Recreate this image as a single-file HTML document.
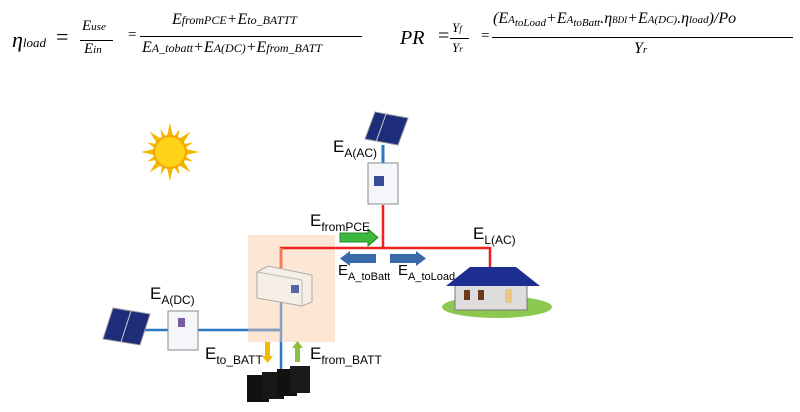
<!DOCTYPE html>
<html><head><meta charset="utf-8"><style>
body{margin:0;background:#fff;}
.w{position:relative;width:800px;height:412px;overflow:hidden;font-family:"Liberation Serif",serif;}
.m{position:absolute;font-style:italic;font-size:17px;white-space:nowrap;color:#000;}
.s{font-size:11px;}
.l{position:absolute;font-family:"Liberation Sans",sans-serif;font-size:17px;white-space:nowrap;}
.l sub{font-size:12px;vertical-align:-5px;}
.bar{position:absolute;height:1px;background:#000;}
</style></head><body><div class="w">
<div class="m" style="left:12px;top:27px;font-size:22px">η<span class="s" style="font-size:13px">load</span></div>
<div class="m" style="left:56px;top:24px;font-size:22px;font-style:normal">=</div>
<div class="m" style="left:82px;top:18px;font-size:15px">E<span class="s">use</span></div>
<div class="bar" style="left:80px;top:40px;width:33px"></div>
<div class="m" style="left:84px;top:41px;font-size:15px">E<span class="s">in</span></div>
<div class="m" style="left:128px;top:27px;font-size:15px;font-style:normal">=</div>
<div class="m" style="left:172px;top:11px;font-size:16px">E<span class="s" style="font-size:12px">fromPCE</span>+E<span class="s" style="font-size:12px">to_BATTT</span></div>
<div class="bar" style="left:140px;top:36px;width:222px"></div>
<div class="m" style="left:142px;top:39px;font-size:16px">E<span class="s" style="font-size:12px">A_tobatt</span>+E<span class="s" style="font-size:12px">A(DC)</span>+E<span class="s" style="font-size:12px">from_BATT</span></div>

<div class="m" style="left:400px;top:27px;font-size:20px">PR</div>
<div class="m" style="left:438px;top:25px;font-size:20px;font-style:normal">=</div>
<div class="m" style="left:452px;top:20px;font-size:13px">Y<span class="s" style="font-size:9px">f</span></div>
<div class="bar" style="left:450px;top:38px;width:19px"></div>
<div class="m" style="left:452px;top:40px;font-size:13px">Y<span class="s" style="font-size:9px">r</span></div>
<div class="m" style="left:481px;top:28px;font-size:15px;font-style:normal">=</div>
<div class="m" style="left:493px;top:10px;font-size:16px">(E<span class="s">A<sub style="font-size:11px">toLoad</sub></span>+E<span class="s">A<sub style="font-size:11px">toBatt</sub></span>.η<span class="s" style="font-size:9px">BDI</span>+E<span class="s">A(DC)</span>.η<span class="s">load</span>)/Po</div>
<div class="bar" style="left:492px;top:37px;width:301px"></div>
<div class="m" style="left:634px;top:40px;font-size:16px">Y<span class="s">r</span></div>

<svg width="800" height="412" style="position:absolute;left:0;top:0">
<g transform="translate(170,152)">
<g fill="#f5b800">
<polygon points="-3,-16 0,-29 3,-16"/><polygon points="-3,16 0,29 3,16"/>
<polygon points="-16,-3 -29,0 -16,3"/><polygon points="16,-3 29,0 16,3"/>
<g transform="rotate(45)"><polygon points="-3,-16 0,-29 3,-16"/><polygon points="-3,16 0,29 3,16"/><polygon points="-16,-3 -29,0 -16,3"/><polygon points="16,-3 29,0 16,3"/></g>
<g transform="rotate(22.5)"><polygon points="-2,-16 0,-25 2,-16"/><polygon points="-2,16 0,25 2,16"/><polygon points="-16,-2 -25,0 -16,2"/><polygon points="16,-2 25,0 16,2"/></g>
<g transform="rotate(67.5)"><polygon points="-2,-16 0,-25 2,-16"/><polygon points="-2,16 0,25 2,16"/><polygon points="-16,-2 -25,0 -16,2"/><polygon points="16,-2 25,0 16,2"/></g>
</g>
<circle r="16" fill="#ffd21a" stroke="#f0a800" stroke-width="2"/>
</g>
<rect x="248" y="235" width="87" height="107" fill="#fde6d4"/>
<polyline points="281,268 281,248 490,248 490,268" fill="none" stroke="#ee2020" stroke-width="2.5"/>
<line x1="281" y1="248" x2="281" y2="268" stroke="#f47a50" stroke-width="2.5"/>
<line x1="383" y1="205" x2="383" y2="248" stroke="#ee2020" stroke-width="2.5"/>
<line x1="383" y1="145" x2="383" y2="163" stroke="#2a78c8" stroke-width="3"/>
<line x1="145" y1="330" x2="281" y2="330" stroke="#2a78c8" stroke-width="2.5"/>
<line x1="248" y1="330" x2="281" y2="330" stroke="#8a9ec0" stroke-width="2.5"/>
<line x1="281" y1="300" x2="281" y2="342" stroke="#8a9ec0" stroke-width="2.5"/>
<line x1="281" y1="342" x2="281" y2="372" stroke="#2a78c8" stroke-width="2.5"/>
<polygon points="375,112 408,118 398,145 365,139" fill="#1d2d7a" stroke="#999"/>
<line x1="386" y1="114" x2="376" y2="142" stroke="#ccc"/>
<rect x="368" y="163" width="30" height="41" fill="#f4f6fa" stroke="#888"/>
<rect x="374" y="176" width="10" height="10" fill="#3a4a9a"/>
<polygon points="113,308 150,314 140,345 103,339" fill="#1d2d7a" stroke="#999"/>
<line x1="131" y1="311" x2="121" y2="342" stroke="#ccc"/>
<rect x="168" y="311" width="30" height="39" fill="#f4f6fa" stroke="#888"/>
<rect x="178" y="318" width="7" height="9" fill="#7a5aa0"/>
<polygon points="257,272 268,266 312,275 312,302 302,306 257,298" fill="#f5efe6" stroke="#aaa"/>
<line x1="257" y1="272" x2="302" y2="280" stroke="#bbb"/><line x1="302" y1="280" x2="302" y2="306" stroke="#bbb"/>
<rect x="291" y="285" width="8" height="8" fill="#5566aa"/>
<rect x="247" y="375" width="22" height="27" fill="#111"/><rect x="262" y="372" width="22" height="27" fill="#181818"/>
<rect x="277" y="369" width="20" height="27" fill="#111"/><rect x="290" y="366" width="20" height="27" fill="#1a1a1a"/>
<polygon points="265,342 270,342 270,356 273,356 267.5,363 262,356 265,356" fill="#f5b800"/>
<polygon points="295,362 300,362 300,348 303,348 297.5,341 292,348 295,348" fill="#8cc040"/>
<polygon points="340,233 368,233 368,229 378,237.5 368,246 368,242 340,242" fill="#3cb83c" stroke="#2a8a2a"/>
<polygon points="376,254 350,254 350,251 340,258.5 350,266 350,263 376,263" fill="#3a6aa8"/>
<polygon points="390,254 416,254 416,251 426,258.5 416,266 416,263 390,263" fill="#3a6aa8"/>
<ellipse cx="497" cy="307" rx="55" ry="11" fill="#8cc850"/>
<rect x="455" y="282" width="72" height="28" fill="#ddd" stroke="#777"/>
<polygon points="446,286 470,267 516,267 540,286" fill="#1e2e90"/>
<rect x="464" y="290" width="6" height="10" fill="#6a3a1a"/><rect x="478" y="290" width="6" height="10" fill="#6a3a1a"/>
<rect x="505" y="289" width="7" height="14" fill="#e8c880"/>
</svg>
<div class="l" style="left:333px;top:137px">E<sub>A(AC)</sub></div>
<div class="l" style="left:310px;top:211px">E<sub>fromPCE</sub></div>
<div class="l" style="left:338px;top:262px;font-size:15px">E<sub style="font-size:11px">A_toBatt</sub></div>
<div class="l" style="left:398px;top:262px;font-size:15px">E<sub style="font-size:11px">A_toLoad</sub></div>
<div class="l" style="left:473px;top:224px">E<sub>L(AC)</sub></div>
<div class="l" style="left:150px;top:284px">E<sub>A(DC)</sub></div>
<div class="l" style="left:205px;top:344px">E<sub>to_BATT</sub></div>
<div class="l" style="left:310px;top:344px">E<sub>from_BATT</sub></div>
</div></body></html>
